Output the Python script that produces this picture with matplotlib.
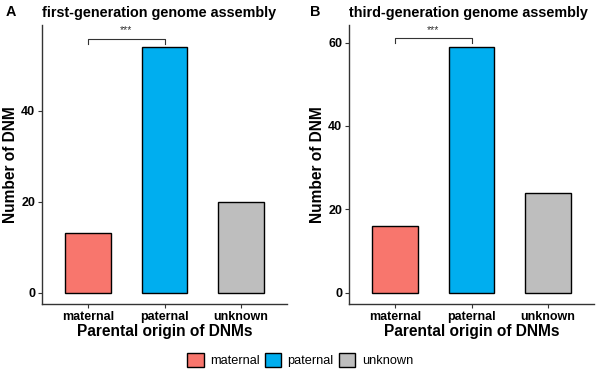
import matplotlib
matplotlib.use("Agg")
import matplotlib.pyplot as plt
from matplotlib.patches import Patch

categories = ["maternal", "paternal", "unknown"]
counts_first = [13, 54, 20]
counts_third = [16, 59, 24]
colors = ["#F8766D", "#00AEEF", "#BEBEBE"]
titles = ["first-generation genome assembly", "third-generation genome assembly"]
panel_letters = ["A", "B"]
yticks_first = [0, 20, 40]
yticks_third = [0, 20, 40, 60]
sig_label = "***"
sig_y = [55.8, 61.1]
ylims = [(-2.5, 58.8), (-2.7, 64.2)]

plt.rcParams['font.family'] = ['Liberation Sans', 'DejaVu Sans']

W, H = 600, 375
fig = plt.figure(figsize=(6, 3.75), dpi=100)

def ax_rect(left, right, top, bottom):
    return [left / W, 1 - bottom / H, (right - left) / W, (bottom - top) / H]

rects = [ax_rect(42, 287, 25, 304), ax_rect(349, 594, 25, 304)]
all_counts = [counts_first, counts_third]
all_yticks = [yticks_first, yticks_third]
letter_x = [6, 310]

for i in range(2):
    ax = fig.add_axes(rects[i])
    x = list(range(1, len(categories) + 1))
    ax.bar(x, all_counts[i], width=0.6, color=colors, edgecolor="black", linewidth=1.0, zorder=2)
    ax.set_xlim(0.4, 3.6)
    ax.set_ylim(*ylims[i])
    ax.set_xticks(x)
    ax.set_xticklabels(categories, fontsize=9.0, fontweight="bold", color="black")
    ax.set_yticks(all_yticks[i])
    ax.set_yticklabels([str(v) for v in all_yticks[i]], fontsize=9.0, fontweight="bold", color="black")
    ax.tick_params(axis="both", length=3, width=0.8, color="#333333", pad=2)
    for s in ["top", "right"]:
        ax.spines[s].set_visible(False)
    for s in ["left", "bottom"]:
        ax.spines[s].set_linewidth(1.0)
        ax.spines[s].set_color("#333333")
    ax.set_xlabel("Parental origin of DNMs", fontsize=11.2, fontweight="bold", labelpad=1)
    ax.set_ylabel("Number of DNM", fontsize=11.2, fontweight="bold", labelpad=2)
    # significance bracket
    y = sig_y[i]
    tick = 1.2
    ax.plot([1, 1, 2, 2], [y - tick, y, y, y - tick], color="#333333", linewidth=0.8, clip_on=False)
    ax.text(1.5, y + 0.8, sig_label, ha="center", va="bottom", fontsize=7.5, color="#333333")
    # title
    ax.text(0, 1.0 + 12 / 279, titles[i], transform=ax.transAxes, ha="left", va="center",
            fontsize=10.4, fontweight="bold")
    fig.text(letter_x[i] / W, 1 - 12 / H, panel_letters[i], ha="left", va="center",
             fontsize=10.4, fontweight="bold")

handles = [Patch(facecolor=c, edgecolor="black", linewidth=1.0) for c in colors]
fig.legend(handles, categories, loc="center", bbox_to_anchor=(0.5, 1 - 360 / H), ncol=3,
           frameon=False, fontsize=9.2, handlelength=1.3, handleheight=1.4,
           handletextpad=0.5, columnspacing=0.4)

fig.savefig("out.png", dpi=100)
